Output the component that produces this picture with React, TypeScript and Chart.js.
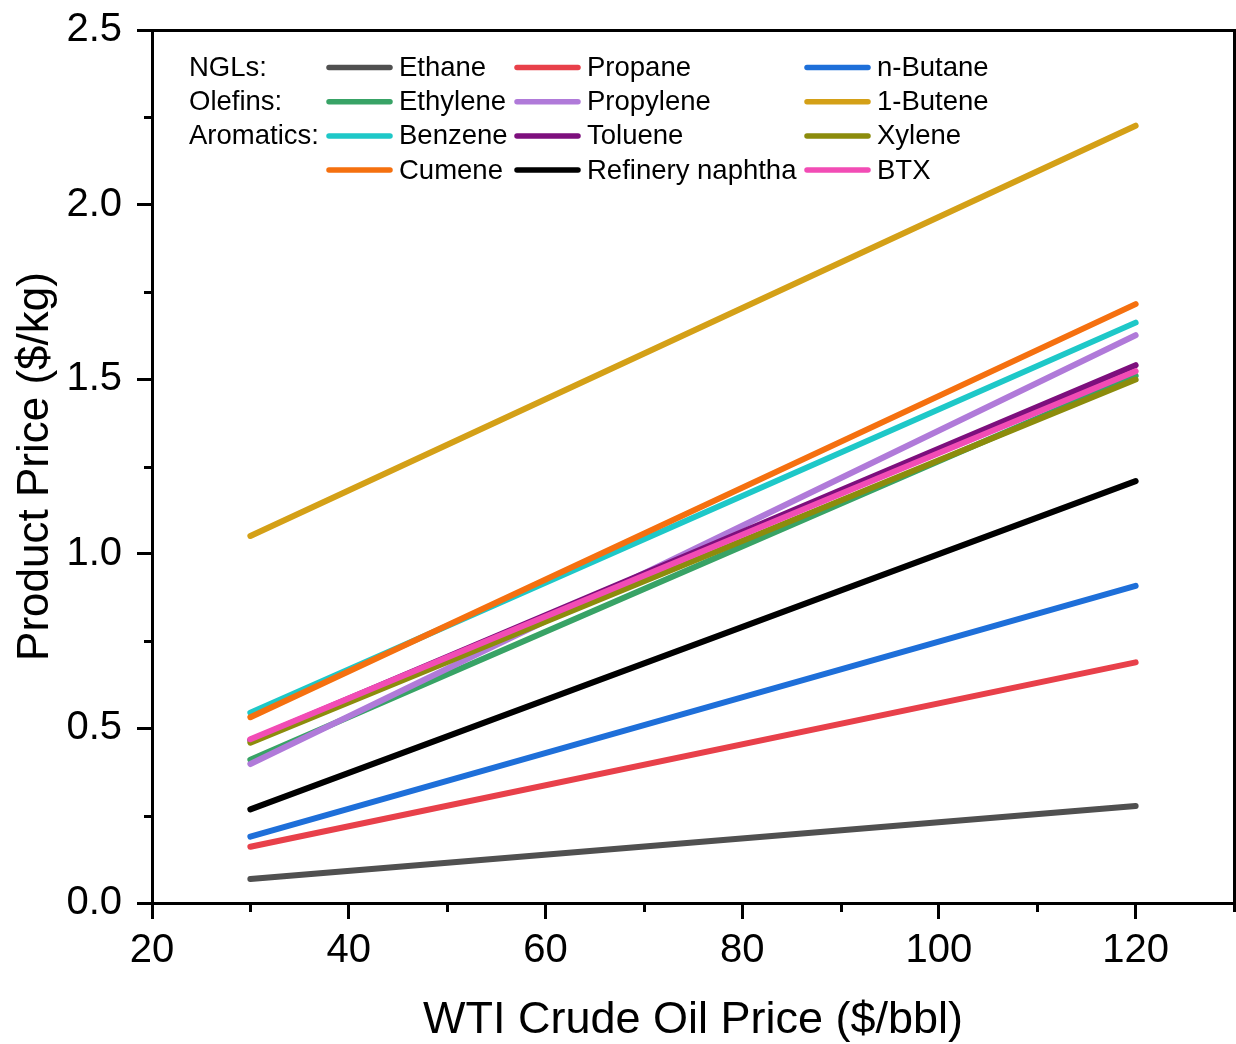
import React, { useEffect, useRef } from "react";
import { Chart, registerables } from "chart.js";

Chart.register(...registerables);

// ---- data ----
const crudePrices = [30, 120];
const ethane = [0.069, 0.278];
const propane = [0.161, 0.689];
const nButane = [0.19, 0.908];
const ethylene = [0.41, 1.51];
const propylene = [0.398, 1.626];
const butene1 = [1.051, 2.226];
const benzene = [0.545, 1.662];
const toluene = [0.466, 1.54];
const xylene = [0.459, 1.499];
const cumene = [0.532, 1.715];
const naphtha = [0.268, 1.208];
const btx = [0.469, 1.523];

const seriesNames = [
  "Ethane", "Propane", "n-Butane",
  "Ethylene", "Propylene", "1-Butene",
  "Benzene", "Toluene", "Xylene",
  "Cumene", "Refinery naphtha", "BTX",
];
const seriesValues = [
  ethane, propane, nButane,
  ethylene, propylene, butene1,
  benzene, toluene, xylene,
  cumene, naphtha, btx,
];
const seriesColors = [
  "#505050", "#e8404a", "#1e6fd9",
  "#38a366", "#b07ad9", "#d4a017",
  "#1ec8c8", "#7d0f7d", "#8c8c0c",
  "#f5700f", "#000000", "#f24cb5",
];
const legendGroups = ["NGLs:", "Olefins:", "Aromatics:", ""];

const xMajorTicks = [20, 40, 60, 80, 100, 120];
const xMinorTicks = [30, 50, 70, 90, 110, 130];
const yMinorTicks = [0.25, 0.75, 1.25, 1.75, 2.25];

const FONT = 'Arial, "Liberation Sans", sans-serif';

const framePlugin = {
  id: "frameAndLegend",
  afterDraw(chart: any) {
    const { ctx, chartArea, scales } = chart;
    const { left, right, top, bottom } = chartArea;
    ctx.save();
    ctx.strokeStyle = "#000";
    ctx.lineWidth = 3;
    ctx.lineCap = "butt";
    // top & right frame
    ctx.beginPath();
    ctx.moveTo(left - 1.5, top + 0.5);
    ctx.lineTo(right + 2, top + 0.5);
    ctx.moveTo(right + 0.5, top);
    ctx.lineTo(right + 0.5, bottom);
    ctx.stroke();
    // minor ticks
    ctx.lineWidth = 3;
    ctx.beginPath();
    xMinorTicks.forEach((v) => {
      const px = Math.round(scales.x.getPixelForValue(v)) + 0.5;
      ctx.moveTo(px, bottom);
      ctx.lineTo(px, bottom + 9);
    });
    yMinorTicks.forEach((v) => {
      const py = Math.round(scales.y.getPixelForValue(v)) + 0.5;
      ctx.moveTo(left, py);
      ctx.lineTo(left - 8, py);
    });
    ctx.stroke();

    // legend
    const rowY = [67.5, 101.7, 135.9, 170.1];
    const colLineX = [327, 515, 805];
    const lineLen = 65;
    const textGap = 7;
    ctx.font = `27.5px ${FONT}`;
    ctx.textBaseline = "middle";
    ctx.textAlign = "left";
    ctx.fillStyle = "#000";
    legendGroups.forEach((g, r) => {
      if (g) ctx.fillText(g, 189, rowY[r] + 1);
    });
    seriesNames.forEach((name, i) => {
      const r = Math.floor(i / 3);
      const c = i % 3;
      const x0 = colLineX[c];
      const y = rowY[r];
      ctx.strokeStyle = seriesColors[i];
      ctx.lineWidth = 5.5;
      ctx.lineCap = "round";
      ctx.beginPath();
      ctx.moveTo(x0 + 2, y);
      ctx.lineTo(x0 + lineLen - 2, y);
      ctx.stroke();
      ctx.fillStyle = "#000";
      ctx.fillText(name, x0 + lineLen + textGap, y + 1);
    });
    ctx.restore();
  },
};

export default function App() {
  const canvasRef = useRef<HTMLCanvasElement | null>(null);

  useEffect(() => {
    if (!canvasRef.current) return;
    Chart.defaults.font.family = FONT;
    const datasets = seriesNames.map((name, i) => ({
      label: name,
      data: crudePrices.map((x, j) => ({ x, y: seriesValues[i][j] })),
      borderColor: seriesColors[i],
      backgroundColor: seriesColors[i],
      borderWidth: 6,
      borderCapStyle: "round" as const,
      pointRadius: 0,
      fill: false,
      order: seriesNames.length - i,
    }));
    const chart = new Chart(canvasRef.current, {
      type: "line",
      data: { datasets },
      options: {
        animation: false,
        responsive: false,
        maintainAspectRatio: false,
        layout: { padding: { left: 0, top: 30, right: 2, bottom: 0 } },
        plugins: { legend: { display: false }, tooltip: { enabled: false } },
        scales: {
          x: {
            type: "linear",
            min: 20,
            max: 130,
            afterBuildTicks: (scale: any) => {
              scale.ticks = xMajorTicks.map((v) => ({ value: v }));
            },
            afterFit: (scale: any) => {
              scale.height = 141;
              scale.paddingLeft = 0;
              scale.paddingRight = 0;
            },
            grid: {
              drawOnChartArea: false,
              drawTicks: true,
              tickLength: 16,
              tickWidth: 3,
              tickColor: "#000",
              color: "#000",
            },
            border: { display: true, width: 3, color: "#000" },
            ticks: {
              color: "#000",
              font: { size: 40, family: FONT },
              padding: 8,
              maxRotation: 0,
              autoSkip: false,
            },
            title: {
              display: true,
              text: "WTI Crude Oil Price ($/bbl)",
              color: "#000",
              font: { size: 45, family: FONT, lineHeight: 1.05 },
              padding: { top: 0, bottom: 0 },
            },
          },
          y: {
            type: "linear",
            min: 0,
            max: 2.5,
            afterFit: (scale: any) => {
              scale.width = 152;
              scale.paddingTop = 0;
              scale.paddingBottom = 0;
            },
            grid: {
              drawOnChartArea: false,
              drawTicks: true,
              tickLength: 15,
              tickWidth: 3,
              tickColor: "#000",
              color: "#000",
            },
            border: { display: true, width: 3, color: "#000" },
            ticks: {
              stepSize: 0.5,
              color: "#000",
              font: { size: 40, family: FONT },
              padding: 15,
              callback: (v: any) => Number(v).toFixed(1),
            },
            title: {
              display: true,
              text: "Product Price ($/kg)",
              color: "#000",
              font: { size: 44, family: FONT },
              padding: { top: 9, bottom: 0 },
            },
          },
        },
      },
      plugins: [framePlugin],
    });
    return () => chart.destroy();
  }, []);

  return (
    <div style={{ position: "absolute", left: 0, top: 0, width: 1236, height: 1044, background: "#fff" }}>
      <canvas ref={canvasRef} width={1236} height={1044} />
    </div>
  );
}
